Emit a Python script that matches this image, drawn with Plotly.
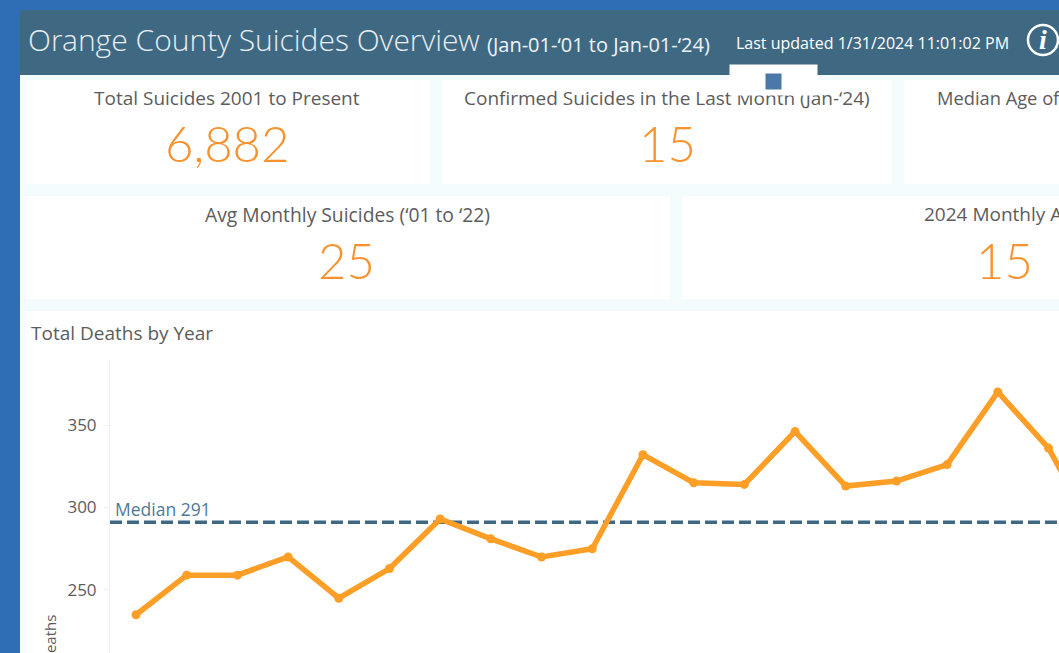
import plotly.graph_objects as go

W, H = 1059, 653
years = list(range(2001, 2021))
deaths = [235, 259, 259, 270, 245, 263, 293, 281, 270, 275, 332, 315, 314, 346, 313, 316, 326, 370, 336, 280]
median_value = 291
tick_values = [250, 300, 350]

BLUE = "#2F6DB5"
HEADER = "#3F6983"
PANEL = "#F4FBFD"
ORANGE = "#F8922E"
LINE = "#FD9E27"
GREY = "#5C5C5C"
FONT = "'Open Sans', sans-serif"
LIGHT = "'Open Sans Light', 'Open Sans', sans-serif"
BIG = "'Lato Light', Lato, sans-serif"


def px(x):
    return x / W


def py(y):
    return 1 - y / H


def rect(x0, y0, x1, y1, color):
    return dict(type="rect", xref="paper", yref="paper", x0=px(x0), x1=px(x1), y0=py(y1), y1=py(y0),
                fillcolor=color, line_width=0, layer="below")


def text(x, y, s, size, color=GREY, anchor="center", family=FONT, **kw):
    return dict(xref="paper", yref="paper", x=px(x), y=py(y), text=s, showarrow=False, xanchor=anchor,
                yanchor="middle", font=dict(size=size, color=color, family=family), **kw)


shapes = [
    rect(0, 0, W, H, BLUE),
    rect(20, 75, W, H, PANEL),
    rect(20, 10, W, 75, HEADER),
    rect(25, 80, 430, 184, "white"),
    rect(442, 80, 892, 184, "white"),
    rect(904, 80, W, 184, "white"),
    rect(25, 196, 670, 299, "white"),
    rect(682, 196, W, 299, "white"),
    rect(25, 311, W, H, "white"),
    dict(type="circle", xref="paper", yref="paper", x0=px(1028), x1=px(1058), y0=py(55), y1=py(25),
         line=dict(color="white", width=2.5), fillcolor="rgba(0,0,0,0)", layer="below"),
]

annotations = [
    text(25.5, 40, "Orange County Suicides Overview", 30, "#E8EEF2", "left", LIGHT),
    text(484.5, 44, "(Jan-01-‘01 to Jan-01-‘24)", 20, "#F0F4F6", "left"),
    text(733.5, 43, "Last updated 1/31/2024 11:01:02 PM", 16, "white", "left"),
    text(1043, 40, "<b><i>i</i></b>", 28, "white", family="'Liberation Serif', serif"),
    text(227, 98, "Total Suicides 2001 to Present", 19),
    text(667, 98, "Confirmed Suicides in the Last Month (Jan-‘24)", 19),
    text(935, 98, "Median Age of", 18.3, anchor="left"),
    text(347, 214, "Avg Monthly Suicides (‘01 to ‘22)", 19.3),
    text(922, 214, "2024 Monthly Avg", 19, anchor="left"),
    text(227, 143, "6,882", 49, ORANGE, family=BIG),
    text(667, 143, "15", 49, ORANGE, family=BIG),
    text(346, 260, "25", 49, ORANGE, family=BIG),
    text(1004, 260, "15", 49, ORANGE, family=BIG),
    text(773.5, 80, " ", 10, bgcolor="white", width=87, height=30, borderpad=0),
    text(773.5, 81.5, " ", 10, bgcolor="#4A78A8", width=15, height=15, borderpad=0),
    text(29, 333, "Total Deaths by Year", 19, anchor="left"),
    text(112.5, 509, f"Median {median_value}", 17.5, "#4F7A96", "left"),
    text(50, 640, "Deaths", 15, textangle=-90),
]

x_range = [2000.487, 2019.207]

fig = go.Figure()
fig.add_trace(go.Scatter(x=x_range, y=[median_value, median_value], mode="lines",
                         line=dict(color=HEADER, width=3.5, dash="12px,5px"), hoverinfo="skip"))
fig.add_trace(go.Scatter(x=years, y=deaths, mode="lines+markers",
                         line=dict(color=LINE, width=5.5), marker=dict(color=LINE, size=9)))

fig.update_layout(
    width=W, height=H, margin=dict(l=0, r=0, t=0, b=0), showlegend=False,
    paper_bgcolor=BLUE, plot_bgcolor="white", font=dict(family=FONT),
    shapes=shapes, annotations=annotations,
    xaxis=dict(domain=[px(110), 1], range=x_range, showgrid=False, zeroline=False, showticklabels=False,
               ticks="", showline=False),
    yaxis=dict(domain=[0, py(360)], range=[211.8, 389.4], tickvals=tick_values, showgrid=False, zeroline=False,
               showline=True, linecolor="#F0F0F0", linewidth=1, ticks="outside", ticklen=5, tickcolor="#F0F0F0",
               tickfont=dict(size=17, color=GREY, family=FONT), ticklabelstandoff=4),
)

fig.write_html("out.html", config={"displayModeBar": False},
               post_script="document.body.style.margin='0';document.body.style.overflow='hidden';")
